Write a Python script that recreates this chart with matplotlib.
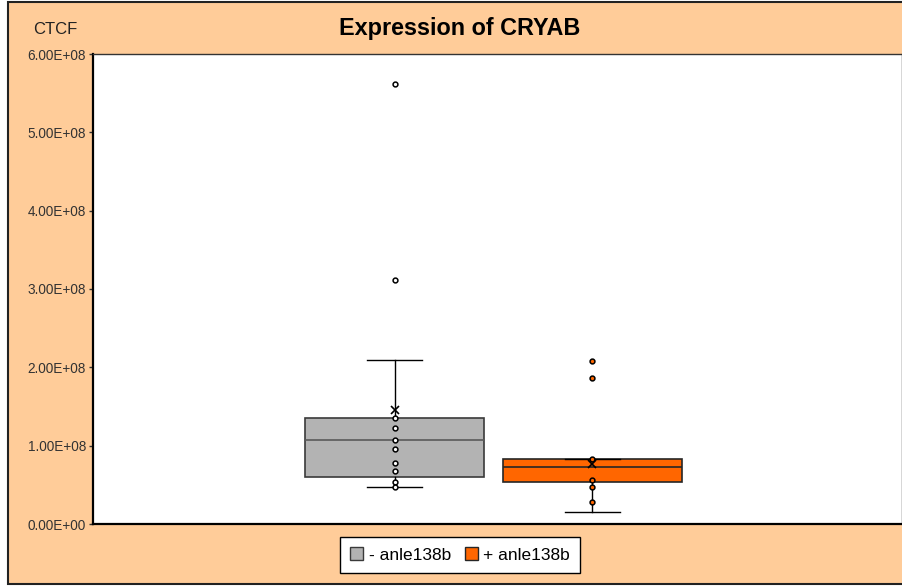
import matplotlib.pyplot as plt
from matplotlib.patches import Rectangle, Patch
from matplotlib.ticker import FuncFormatter

plt.rcParams['font.family'] = ['Liberation Sans', 'DejaVu Sans']

# data (values in units of 1e8)
groups = ["- anle138b", "+ anle138b"]
q1 = [0.604, 0.532]
median = [1.072, 0.732]
q3 = [1.353, 0.826]
whis_lo = [0.47, 0.149]
whis_hi = [2.094, 0.834]
means = [1.455, 0.766]
outliers = [[5.62, 3.115], [2.08, 1.868]]
inner_points = [
    [1.353, 1.226, 1.072, 0.957, 0.78, 0.68, 0.54, 0.47],
    [0.826, 0.562, 0.476, 0.277],
]
y_ticks = [0, 1, 2, 3, 4, 5, 6]

box_colors = ["#B3B3B3", "#FF6600"]
edge_colors = ["#3A3A3A", "#262626"]
median_colors = ["#5A5A5A", "#262626"]
point_fill = ["#FFFFFF", "#FF6600"]
scale = 1e8

fig = plt.figure(figsize=(9.02, 5.86), dpi=100)
fig.patch.set_facecolor("white")
fig.patches.append(Rectangle((8 / 902, 2 / 586), 1.0, 582 / 586,
                             transform=fig.transFigure, facecolor="#FFCC99",
                             edgecolor="#222222", linewidth=1.5, zorder=-10))

ax = fig.add_axes([93 / 902, 62 / 586, 809 / 902, 470 / 586])
ax.set_zorder(1)
ax.set_facecolor("white")

positions = [0.373, 0.617]
stats = []
for i in range(len(groups)):
    stats.append(dict(q1=q1[i] * scale, med=median[i] * scale, q3=q3[i] * scale,
                      whislo=whis_lo[i] * scale, whishi=whis_hi[i] * scale,
                      mean=means[i] * scale, fliers=[], label=groups[i]))

for i in range(len(groups)):
    ax.bxp([stats[i]], positions=[positions[i]], widths=0.221, capwidths=0.068,
           patch_artist=True, showmeans=True, showfliers=False,
           boxprops=dict(facecolor=box_colors[i], edgecolor=edge_colors[i], linewidth=1.2),
           medianprops=dict(color=median_colors[i], linewidth=1.2),
           whiskerprops=dict(color="black", linewidth=1),
           capprops=dict(color="black", linewidth=1),
           meanprops=dict(marker="x", markeredgecolor="black", markersize=6,
                          markeredgewidth=1.2))
    pts = [v * scale for v in inner_points[i] + outliers[i]]
    ax.scatter([positions[i]] * len(pts), pts, s=12, facecolor=point_fill[i],
               edgecolor="black", linewidth=1.1, zorder=5)

ax.set_xlim(0, 1)
ax.set_ylim(0, 6e8)
ax.set_xticks([])
ax.set_yticks([t * scale for t in y_ticks])
ax.yaxis.set_major_formatter(FuncFormatter(lambda v, p: f"{v:.2E}"))
ax.tick_params(axis="y", labelsize=9.8, length=3, width=1, colors="#333333", pad=2)
for s in ["left", "bottom"]:
    ax.spines[s].set_linewidth(1.6)
    ax.spines[s].set_color("black")
for s in ["top", "right"]:
    ax.spines[s].set_linewidth(1)
    ax.spines[s].set_color("#333333")

fig.text(460 / 902, 1 - 28 / 586, "Expression of CRYAB", ha="center", va="center",
         fontsize=16.8, fontweight="bold", color="black")
fig.text(55 / 902, 1 - 30 / 586, "CTCF", ha="center", va="center",
         fontsize=12, color="#222222")

handles = [Patch(facecolor=box_colors[i], edgecolor=edge_colors[i], label=groups[i])
           for i in range(len(groups))]
leg = fig.legend(handles=handles, loc="center", bbox_to_anchor=(460 / 902, 1 - 555 / 586),
                 ncol=2, fontsize=12.5, frameon=True, fancybox=False,
                 handlelength=0.75, handleheight=0.75, handletextpad=0.3,
                 columnspacing=0.8, borderpad=0.6)
leg.get_frame().set_edgecolor("black")
leg.get_frame().set_linewidth(1)
leg.get_frame().set_facecolor("white")
leg.get_frame().set_alpha(1)

fig.savefig("out.png", dpi=100)
